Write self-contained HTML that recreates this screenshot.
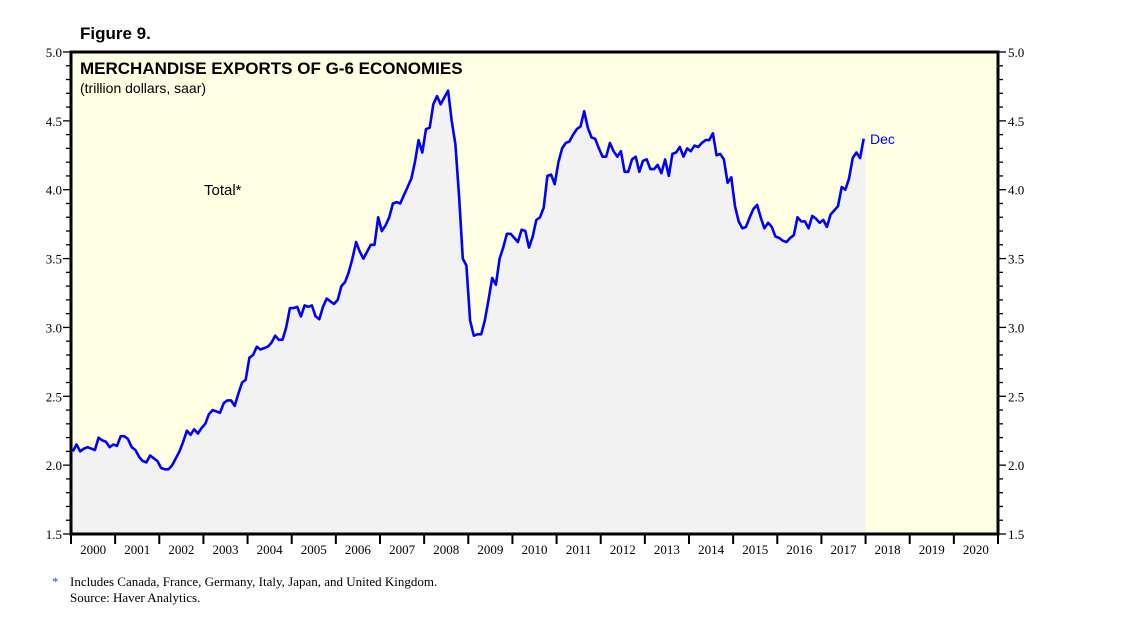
<!DOCTYPE html>
<html><head><meta charset="utf-8"><style>
body{margin:0;background:#fff;width:1138px;height:621px;overflow:hidden}
svg text{font-family:"Liberation Sans",sans-serif}
svg text.serif{font-family:"Liberation Serif",serif}
</style></head><body>
<svg width="1138" height="621">
<text x="80" y="39" font-size="17" font-weight="bold">Figure 9.</text>
<rect x="71" y="52" width="927" height="482" fill="#FFFFE3"/>
<g id="fillg"></g>
<g id="lineg"></g>
<g id="axes"></g>
<text x="80" y="74" font-size="17" font-weight="bold">MERCHANDISE EXPORTS OF G-6 ECONOMIES</text>
<text x="80" y="93" font-size="14">(trillion dollars, saar)</text>
<text x="204" y="195" font-size="15">Total*</text>
<text x="870" y="144" font-size="14" fill="#0000ff">Dec</text>
<text x="52" y="586" font-size="13" fill="#3355cc" class="serif">*</text>
<text x="70" y="586" font-size="13" class="serif">Includes Canada, France, Germany, Italy, Japan, and United Kingdom.</text>
<text x="70" y="602" font-size="13" class="serif">Source: Haver Analytics.</text>
</svg>
<script>
const years=[2000,2001,2002,2003,2004,2005,2006,2007,2008,2009,2010,2011,2012,2013,2014,2015,2016,2017,2018,2019,2020];
const yTicks=[1.5,2.0,2.5,3.0,3.5,4.0,4.5,5.0];
const values=[
2.10,2.15,2.10,2.12,2.13,2.12,2.11,2.20,2.18,2.17,2.13,2.15,
2.14,2.21,2.21,2.19,2.13,2.11,2.06,2.03,2.02,2.07,2.05,2.03,
1.98,1.97,1.97,2.00,2.05,2.10,2.17,2.25,2.22,2.26,2.23,2.27,
2.30,2.37,2.40,2.39,2.38,2.45,2.47,2.47,2.43,2.52,2.60,2.62,
2.78,2.80,2.86,2.84,2.85,2.86,2.89,2.94,2.91,2.91,3.00,3.14,
3.14,3.15,3.08,3.16,3.15,3.16,3.08,3.06,3.15,3.21,3.19,3.17,
3.20,3.30,3.33,3.40,3.50,3.62,3.55,3.50,3.55,3.60,3.60,3.80,
3.70,3.74,3.80,3.90,3.91,3.90,3.96,4.02,4.08,4.20,4.36,4.27,
4.44,4.45,4.62,4.68,4.62,4.67,4.72,4.50,4.33,3.95,3.50,3.45,
3.05,2.94,2.95,2.95,3.05,3.20,3.36,3.31,3.50,3.58,3.68,3.68,
3.65,3.62,3.71,3.70,3.58,3.66,3.78,3.80,3.87,4.10,4.11,4.04,
4.20,4.30,4.34,4.35,4.40,4.44,4.46,4.57,4.45,4.38,4.37,4.30,
4.24,4.24,4.34,4.28,4.24,4.28,4.13,4.13,4.22,4.24,4.13,4.21,
4.22,4.15,4.15,4.18,4.12,4.22,4.10,4.26,4.27,4.31,4.24,4.30,
4.28,4.32,4.31,4.34,4.36,4.36,4.41,4.25,4.26,4.22,4.05,4.09,
3.88,3.77,3.72,3.73,3.80,3.86,3.89,3.80,3.72,3.76,3.73,3.66,
3.65,3.63,3.62,3.65,3.67,3.80,3.77,3.77,3.72,3.81,3.79,3.76,
3.78,3.73,3.82,3.85,3.88,4.02,4.00,4.08,4.23,4.27,4.23,4.37];
const X0=71,X1=998,Y0=534,Y1=52,VMIN=1.5,VMAX=5.0;
const yw=(X1-X0)/years.length;
const xs=i=>X0+(i+0.5)*yw/12;
const ys=v=>Y0-(v-VMIN)/(VMAX-VMIN)*(Y0-Y1);
const NS='http://www.w3.org/2000/svg';
function mk(t,a,p){const e=document.createElementNS(NS,t);for(const k in a)e.setAttribute(k,a[k]);p.appendChild(e);return e;}
let pts=values.map((v,i)=>xs(i).toFixed(1)+','+ys(v).toFixed(1));
const lastX=X0+values.length*yw/12;
const fill=mk('polygon',{points:X0+','+Y0+' '+X0+','+ys(values[0]).toFixed(1)+' '+pts.join(' ')+' '+lastX.toFixed(1)+','+ys(values[values.length-1]).toFixed(1)+' '+lastX.toFixed(1)+','+Y0,fill:'#F2F2F2'},document.getElementById('fillg'));


const line=mk('polyline',{points:pts.join(' '),fill:'none',stroke:'#0000ff','stroke-width':2.6,'stroke-linejoin':'round'},document.getElementById('lineg'));


const ax=document.getElementById('axes');
mk('rect',{x:X0,y:Y1,width:X1-X0,height:Y0-Y1,fill:'none',stroke:'#000','stroke-width':3},ax);
for(let v=15;v<=50;v++){const y=ys(v/10);const L=(v%5==0)?8:5;
mk('line',{x1:X0-L,y1:y,x2:X0,y2:y,stroke:'#000','stroke-width':1.3},ax);
mk('line',{x1:X1,y1:y,x2:X1+L,y2:y,stroke:'#000','stroke-width':1.3},ax);}
yTicks.forEach(v=>{const y=ys(v);
const a=mk('text',{x:X0-9,y:y+5,'font-size':13,'text-anchor':'end','class':'serif'},ax);a.textContent=v.toFixed(1);


const b=mk('text',{x:X1+10,y:y+5,'font-size':13,'class':'serif'},ax);b.textContent=v.toFixed(1);

});
years.forEach((yr,i)=>{const x=X0+i*yw;
mk('line',{x1:x,y1:Y0,x2:x,y2:Y0+10,stroke:'#000','stroke-width':2},ax);
const t=mk('text',{x:x+yw/2,y:Y0+20,'font-size':13,'text-anchor':'middle','class':'serif'},ax);t.textContent=yr;

});
mk('line',{x1:X1,y1:Y0,x2:X1,y2:Y0+10,stroke:'#000','stroke-width':2},ax);
</script>
</body></html>
